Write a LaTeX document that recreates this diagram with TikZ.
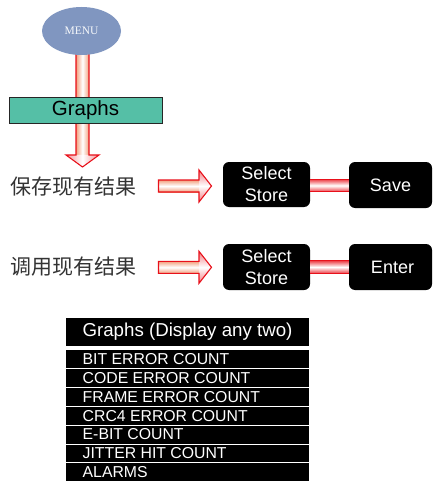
\documentclass[tikz,border=0pt]{standalone}
\usepackage{fontspec}
\setmainfont{Liberation Sans}
\newfontfamily\cjk{Noto Sans CJK SC}
\newfontfamily\serifmenu{Liberation Serif}
\usetikzlibrary{shapes.geometric,calc}
\definecolor{menublue}{HTML}{8096C0}
\definecolor{graphgreen}{HTML}{55BFA6}
\definecolor{arrred}{HTML}{E8101A}
\definecolor{arrpink}{HTML}{F2A07E}
\tikzset{
  blackkey/.style={rectangle, rounded corners=6pt, fill=black, text=white, font=\fontsize{18}{22}\selectfont, align=center, inner sep=0pt},
  cnlabel/.style={font=\cjk\fontsize{21}{24}\selectfont, text=black!80, inner sep=0pt},
  rowtext/.style={text=white, anchor=west, inner sep=0pt, font=\fontsize{15.8}{17}\selectfont},
  arrowline/.style={draw=arrred, line width=1.1pt, line join=miter},
}
\begin{document}
\begin{tikzpicture}[x=1pt,y=-1pt]
\useasboundingbox (0,0) rectangle (432,481);
% vertical arrow from MENU
\coordinate (vtop) at (82.5,45);
\coordinate (vtip) at (82.5,167);
\shade[left color=arrpink, right color=arrpink, middle color=white] ($(vtop)+(-6.5,0)$) rectangle ($(vtip)+(6.5,-12)$);
\shade[left color=arrred!45, right color=arrred!45, middle color=white] ($(vtip)+(-16.5,-12)$) -- ($(vtip)+(16.5,-12)$) -- (vtip) -- cycle;
\draw[arrowline] ($(vtop)+(-6.5,0)$) -- ($(vtip)+(-6.5,-12)$) -- ($(vtip)+(-16.5,-12)$) -- (vtip) -- ($(vtip)+(16.5,-12)$) -- ($(vtip)+(6.5,-12)$) -- ($(vtop)+(6.5,0)$);
% MENU ellipse
\node[ellipse, fill=menublue, minimum width=79pt, minimum height=48pt, inner sep=0pt, text=white!92!menublue, font=\serifmenu\fontsize{11.5}{12}\selectfont] (menu) at (81.5,31) {MENU};
% Graphs box
\node[rectangle, draw=black!85, line width=0.8pt, fill=graphgreen, minimum width=153pt, minimum height=26pt, inner sep=0pt, font=\fontsize{20.5}{22}\selectfont] (graphs) at (85.5,110) {Graphs};

% row labels
\node[cnlabel] (store) at (73.5,187) {保存现有结果};
\node[cnlabel] (recall) at (73.5,267) {调用现有结果};

% keys
\node[blackkey, minimum width=87pt, minimum height=45pt] (ss1) at (266.5,184.5) {Select\\Store};
\node[blackkey, minimum width=83pt, minimum height=46pt] (save) at (390.5,185) {Save};
\node[blackkey, minimum width=87pt, minimum height=46pt] (ss2) at (266.5,267) {Select\\Store};
\node[blackkey, minimum width=83pt, minimum height=46pt] (enter) at (390.5,267) {\raisebox{-4pt}{\hspace{4pt}Enter}};

% horizontal arrows
\foreach \row/\yy in {a/186, b/267.3}{
  \coordinate (hs\row) at (158.5,\yy);
  \coordinate (ht\row) at (211.5,\yy);
  \shade[top color=arrpink, bottom color=arrpink, middle color=white] ($(hs\row)+(0,-6)$) rectangle ($(ht\row)+(-12.5,6)$);
  \shade[top color=arrred!55, bottom color=arrred!55, middle color=white] ($(ht\row)+(-12.5,-16)$) -- (ht\row) -- ($(ht\row)+(-12.5,16)$) -- cycle;
  \draw[arrowline] ($(hs\row)+(0,-6)$) -- ($(ht\row)+(-12.5,-6)$) -- ($(ht\row)+(-12.5,-16)$) -- (ht\row) -- ($(ht\row)+(-12.5,16)$) -- ($(ht\row)+(-12.5,6)$) -- ($(hs\row)+(0,6)$) -- cycle;
}
% connector bars between keys
\foreach \a/\b/\yy in {ss1/save/185.5, ss2/enter/267}{
  \shade[top color=arrred!80, bottom color=arrred!80, middle color=white] ($(\a.east|-0,\yy)+(0,-6.2)$) rectangle ($(\b.west|-0,\yy)+(0,6.2)$);
  \draw[draw=arrred, line width=1pt] ($(\a.east|-0,\yy)+(0,-6.2)$) -- ($(\b.west|-0,\yy)+(0,-6.2)$);
  \draw[draw=arrred, line width=1pt] ($(\a.east|-0,\yy)+(0,6.2)$) -- ($(\b.west|-0,\yy)+(0,6.2)$);
}

% table
\node[fill=black, text=white, minimum width=243pt, minimum height=28pt, inner sep=0pt, font=\fontsize{18.7}{20}\selectfont] (hdr) at (187.5,332) {Graphs (Display any two)};
\fill[black] (66,349) rectangle (309,481);
\foreach \yy in {349,368.7,387.3,406.7,425,444,462.7}{
  \draw[white, line width=1pt] (66,\yy) -- (309,\yy);
}
\foreach \t/\yy [count=\i] in {BIT ERROR COUNT/359, CODE ERROR COUNT/378, FRAME ERROR COUNT/397, CRC4 ERROR COUNT/416, E-BIT COUNT/434.5, JITTER HIT COUNT/453.3, ALARMS/472}{
  \node[rowtext] (r\i) at (82.5,\yy) {\t};
}
\end{tikzpicture}
\end{document}
